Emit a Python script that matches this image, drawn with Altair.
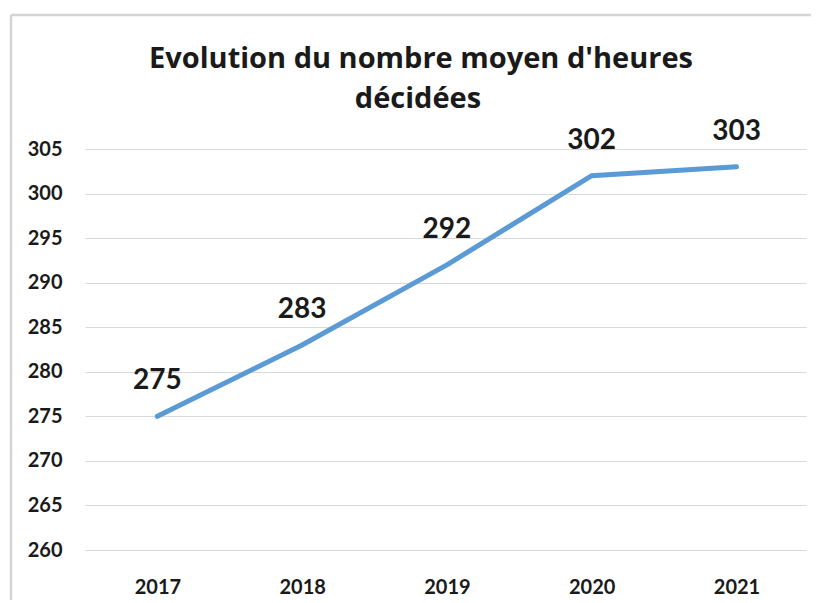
import altair as alt
import pandas as pd

years = [2017, 2018, 2019, 2020, 2021]
values = [275, 283, 292, 302, 303]
y_ticks = [260, 265, 270, 275, 280, 285, 290, 295, 300, 305]
title_lines = ["Evolution du nombre moyen d'heures", "décidées"]

df = pd.DataFrame({"annee": years, "heures": values})
one = pd.DataFrame({"k": [0]})

FONT = "Lato"
TITLE_FONT = "Open Sans"
PLOT_W = 721
PLOT_H = 401

x_enc = alt.X(
    "annee:Q",
    scale=alt.Scale(domain=[2016.5, 2021.48], nice=False, zero=False),
    axis=alt.Axis(
        values=years, format="d", title=None, grid=False, ticks=False,
        domain=False, labelFont=FONT, labelFontSize=20, labelFontWeight="bold",
        labelColor="#1a1a1a", labelPadding=27,
    ),
)
y_enc = alt.Y(
    "heures:Q",
    scale=alt.Scale(domain=[260, 305], nice=False, zero=False),
    axis=alt.Axis(
        values=y_ticks, title=None, grid=True, gridColor="#d9d9d9", gridWidth=1.2,
        ticks=False, domain=False, labelFont=FONT, labelFontSize=20,
        labelFontWeight="bold", labelColor="#1a1a1a", labelPadding=23,
    ),
)

# light outer frame of the chart (top and left edges visible)
frame_top = alt.Chart(one).mark_rule(color="#d4d4d4", strokeWidth=2.5).encode(
    x=alt.value(-74), x2=alt.value(760), y=alt.value(-134)
)
frame_left = alt.Chart(one).mark_rule(color="#d4d4d4", strokeWidth=2.5).encode(
    x=alt.value(-74), y=alt.value(-134), y2=alt.value(470)
)

title1 = alt.Chart(one).mark_text(
    font=TITLE_FONT, fontSize=29, fontWeight="bold", color="#1a1a1a",
    align="center", baseline="alphabetic"
).encode(x=alt.value(336), y=alt.value(-81), text=alt.value(title_lines[0]))
title2 = alt.Chart(one).mark_text(
    font=TITLE_FONT, fontSize=29, fontWeight="bold", color="#1a1a1a",
    align="center", baseline="alphabetic"
).encode(x=alt.value(333), y=alt.value(-41), text=alt.value(title_lines[1]))

line = alt.Chart(df).mark_line(color="#5b9bd5", strokeWidth=5, strokeCap="round").encode(
    x=x_enc, y=y_enc
)

labels = alt.Chart(df).mark_text(
    font=FONT, fontSize=28, fontWeight="bold", color="#1a1a1a",
    baseline="middle", align="center", dy=-35
).encode(
    x="annee:Q", y="heures:Q", text=alt.Text("heures:Q", format="d")
)

chart = alt.layer(frame_top, frame_left, title1, title2, line, labels).properties(
    width=PLOT_W,
    height=PLOT_H,
    autosize=alt.AutoSizeParams(type="none"),
    padding={"left": 77, "top": 141, "right": 5, "bottom": 50},
    background="white",
).configure_view(stroke=None)

chart.save("out.html", embed_options={"renderer": "svg", "actions": False})
